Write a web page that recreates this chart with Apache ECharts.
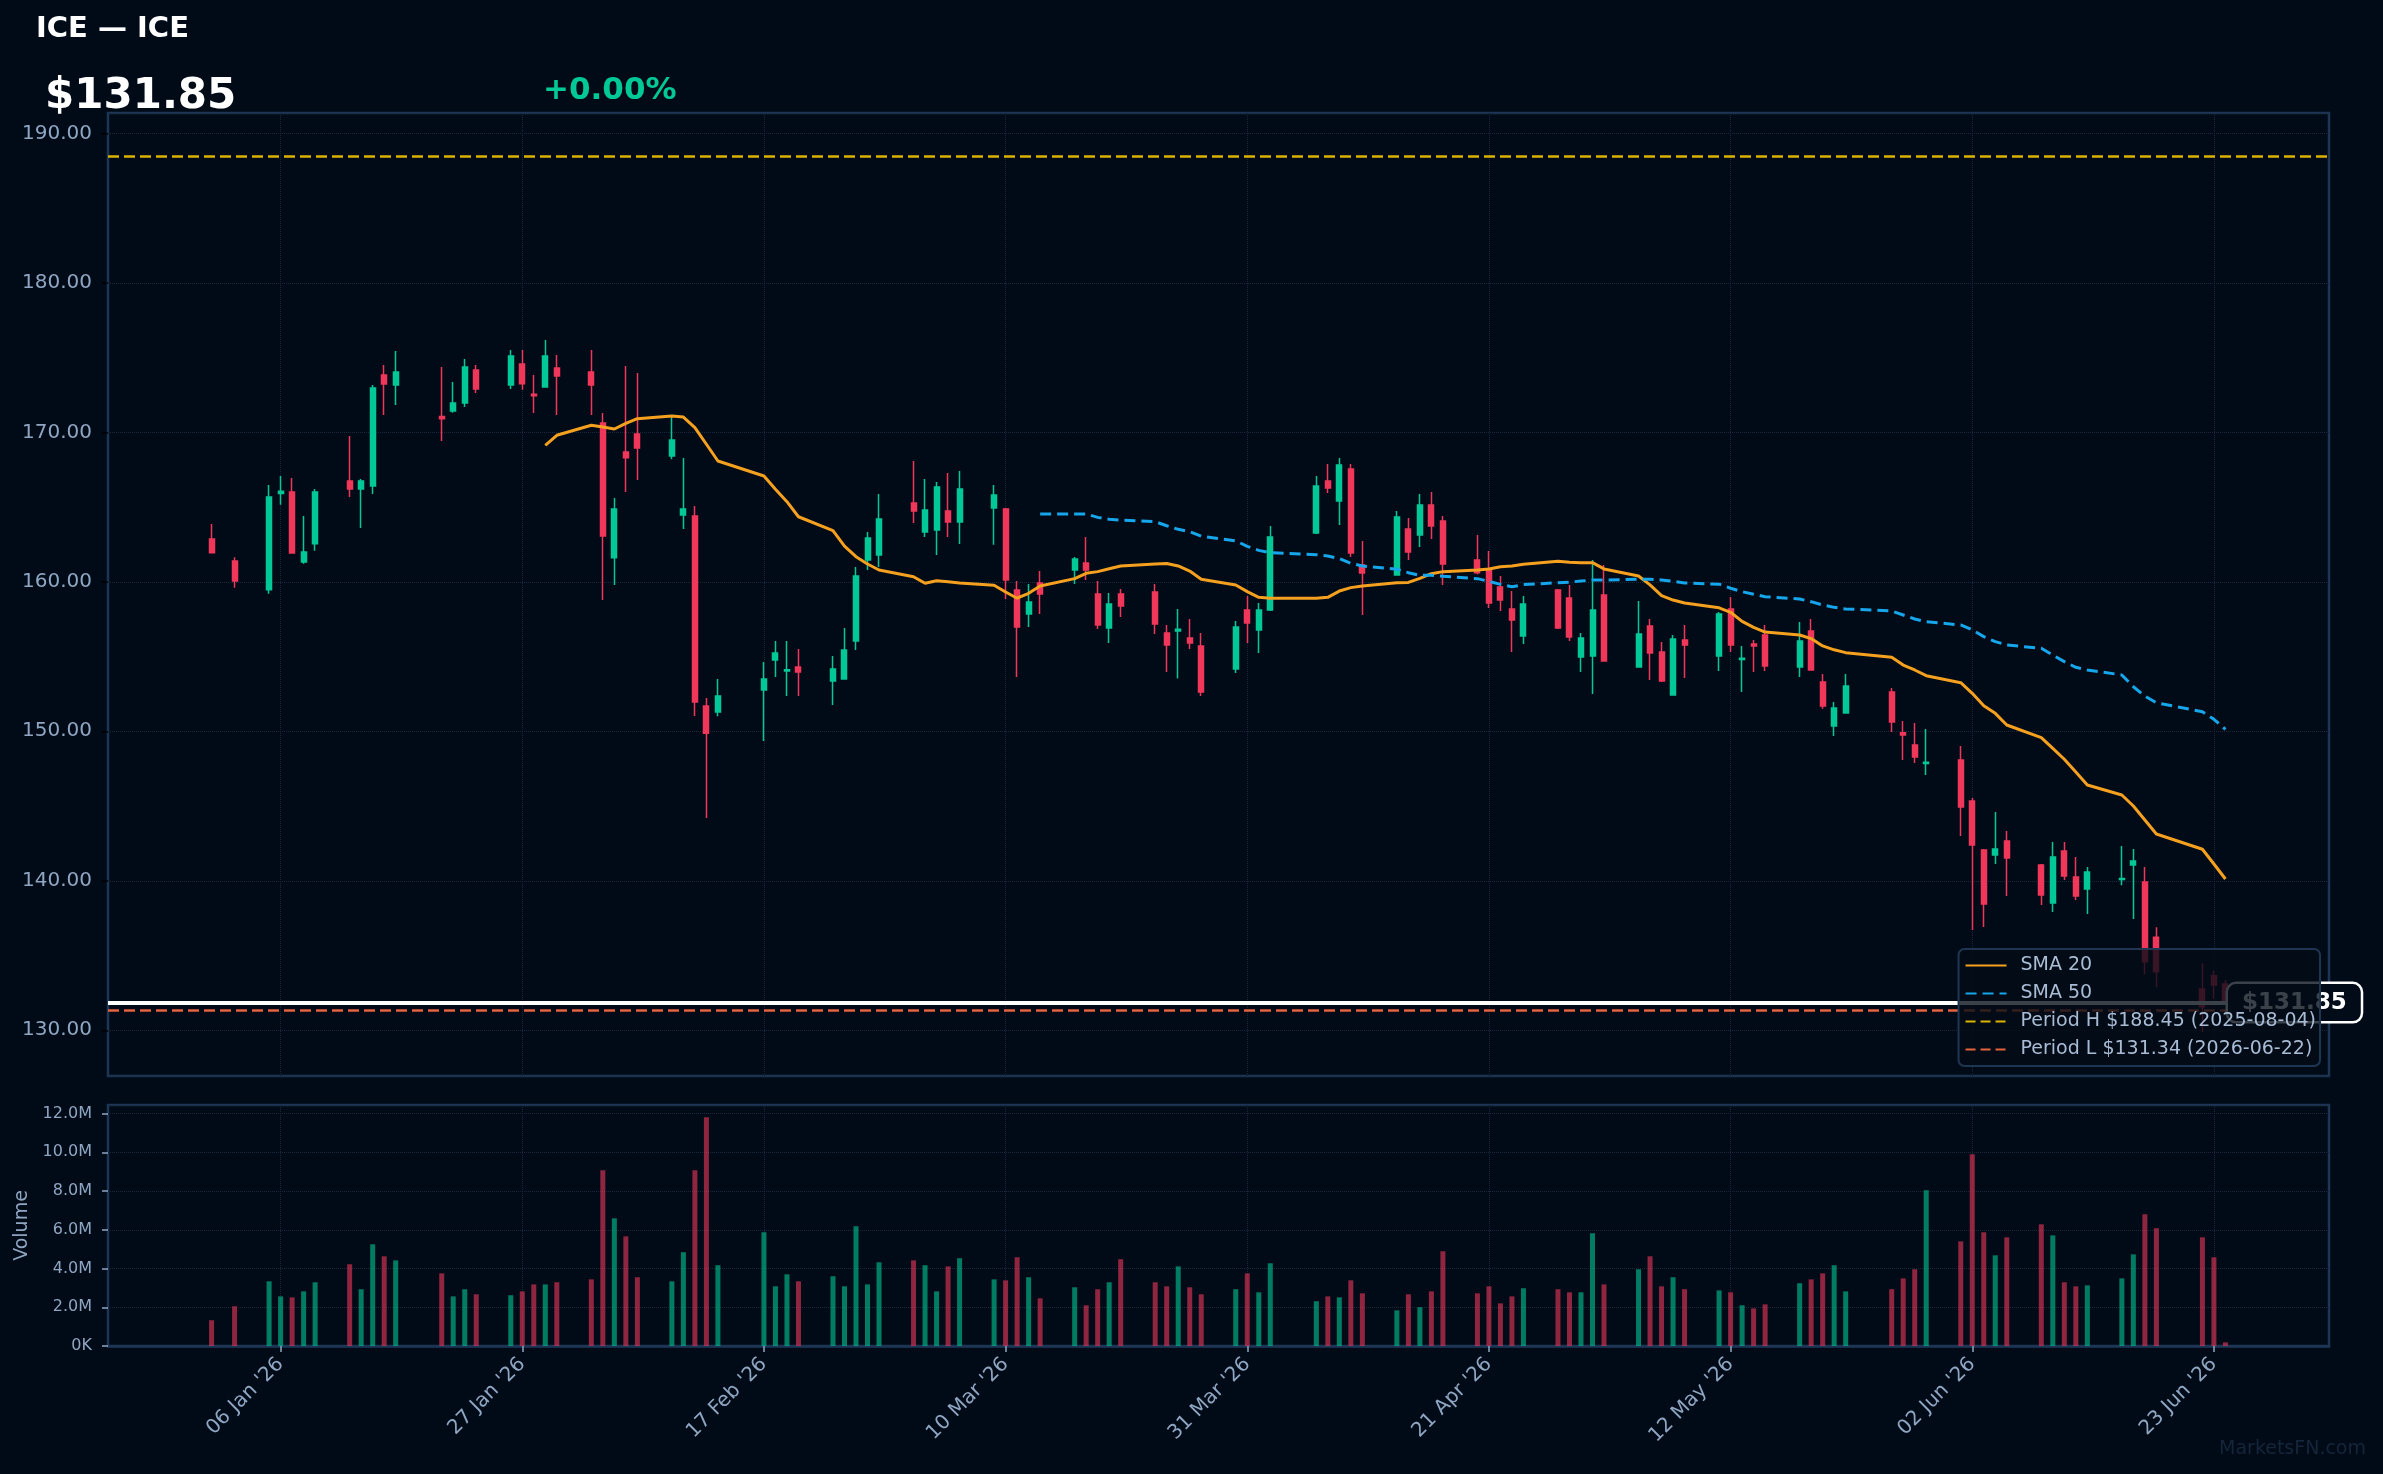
<!DOCTYPE html>
<html>
<head>
<meta charset="utf-8">
<title>ICE — ICE</title>
<script src="https://cdn.jsdelivr.net/npm/echarts@6/dist/echarts.min.js"></script>
<style>
  html, body { margin: 0; padding: 0; background: #010b18; }
  #chart { width: 2383px; height: 1474px; }
</style>
</head>
<body>
<div id="chart"></div>
<script>
// trading days shown (ISO dates)
var dates = [
  '2025-12-31','2026-01-02','2026-01-05','2026-01-06','2026-01-07','2026-01-08','2026-01-09',
  '2026-01-12','2026-01-13','2026-01-14','2026-01-15','2026-01-16','2026-01-20','2026-01-21',
  '2026-01-22','2026-01-23','2026-01-26','2026-01-27','2026-01-28','2026-01-29','2026-01-30',
  '2026-02-02','2026-02-03','2026-02-04','2026-02-05','2026-02-06','2026-02-09','2026-02-10',
  '2026-02-11','2026-02-12','2026-02-13','2026-02-17','2026-02-18','2026-02-19','2026-02-20',
  '2026-02-23','2026-02-24','2026-02-25','2026-02-26','2026-02-27','2026-03-02','2026-03-03',
  '2026-03-04','2026-03-05','2026-03-06','2026-03-09','2026-03-10','2026-03-11','2026-03-12',
  '2026-03-13','2026-03-16','2026-03-17','2026-03-18','2026-03-19','2026-03-20','2026-03-23',
  '2026-03-24','2026-03-25','2026-03-26','2026-03-27','2026-03-30','2026-03-31','2026-04-01',
  '2026-04-02','2026-04-06','2026-04-07','2026-04-08','2026-04-09','2026-04-10','2026-04-13',
  '2026-04-14','2026-04-15','2026-04-16','2026-04-17','2026-04-20','2026-04-21','2026-04-22',
  '2026-04-23','2026-04-24','2026-04-27','2026-04-28','2026-04-29','2026-04-30','2026-05-01',
  '2026-05-04','2026-05-05','2026-05-06','2026-05-07','2026-05-08','2026-05-11','2026-05-12',
  '2026-05-13','2026-05-14','2026-05-15','2026-05-18','2026-05-19','2026-05-20','2026-05-21',
  '2026-05-22','2026-05-26','2026-05-27','2026-05-28','2026-05-29','2026-06-01','2026-06-02',
  '2026-06-03','2026-06-04','2026-06-05','2026-06-08','2026-06-09','2026-06-10','2026-06-11',
  '2026-06-12','2026-06-15','2026-06-16','2026-06-17','2026-06-18','2026-06-22','2026-06-23',
  '2026-06-24'
];

var open = [
  162.86,161.39,159.47,165.90,166.00,161.32,162.55,166.74,166.21,166.41,173.83,173.16,171.05,171.42,
  171.96,174.17,173.16,174.57,172.55,173.03,174.30,174.03,170.62,161.61,168.68,169.89,168.41,164.47,
  164.40,151.69,151.29,152.76,154.77,154.03,154.30,153.36,153.50,156.04,161.46,161.79,165.27,163.33,
  163.46,164.74,164.00,164.94,164.87,159.45,157.85,159.92,160.79,161.26,159.18,156.91,159.18,159.32,
  156.58,156.70,156.24,155.71,154.17,158.11,156.78,158.11,163.26,166.74,165.40,167.55,161.12,160.45,
  163.53,163.13,165.14,164.07,161.46,160.79,159.65,158.18,156.37,159.45,158.92,154.97,155.04,159.12,
  154.30,157.04,155.30,152.43,156.11,155.04,158.18,154.80,155.84,156.44,154.30,156.71,153.30,150.35,
  151.22,152.63,149.90,149.08,147.84,148.08,145.34,142.06,141.73,142.66,141.06,138.52,141.99,140.25,
  139.45,140.08,141.06,139.92,136.22,132.76,133.65,133.10
];
var close = [
  161.95,160.05,165.67,166.05,161.93,162.00,166.00,166.21,166.74,172.96,173.23,174.03,170.90,171.96,
  174.37,172.90,175.10,173.25,172.45,175.10,173.77,173.16,163.06,164.87,168.30,168.95,169.48,164.87,
  151.96,149.87,152.36,153.50,155.24,154.12,153.97,154.17,155.44,160.39,162.93,164.20,164.74,164.80,
  166.34,164.00,166.21,165.81,160.12,156.98,158.65,159.18,161.53,160.79,157.11,158.51,158.38,157.18,
  155.77,156.82,155.91,152.63,156.98,157.24,158.11,163.00,166.41,166.27,167.81,161.93,160.59,164.33,
  161.99,165.14,163.73,161.19,160.60,158.58,158.78,157.44,158.51,156.91,156.31,156.24,158.11,154.70,
  156.51,155.24,153.36,156.17,155.77,157.85,155.77,154.88,155.71,154.37,156.04,154.10,151.69,151.56,
  153.03,150.62,149.75,148.28,147.92,144.94,142.40,138.45,142.13,141.53,139.05,141.59,140.32,138.98,
  140.59,140.16,141.32,134.59,133.92,131.58,133.03,131.85
];
var low = [
  161.90,159.60,159.20,165.16,161.90,161.20,162.08,165.67,163.60,165.87,171.16,171.83,169.42,171.30,
  171.69,172.63,172.90,172.85,171.29,173.00,171.16,171.16,158.78,159.79,166.01,166.81,168.20,163.53,
  151.02,144.20,151.00,149.35,153.63,152.36,152.36,151.76,153.45,155.44,160.79,160.99,163.93,163.00,
  161.79,163.00,162.53,162.47,158.85,153.63,156.98,157.85,159.85,160.12,156.84,155.91,157.65,156.51,
  153.97,153.53,155.50,152.36,153.90,155.91,155.24,158.04,163.20,165.94,163.80,161.66,157.78,160.40,
  161.46,162.33,162.86,159.79,160.50,158.25,158.05,155.30,155.84,156.85,156.04,153.97,152.50,154.65,
  154.25,153.43,153.30,152.40,153.57,154.03,155.30,152.63,153.97,154.03,153.63,154.05,151.50,149.69,
  151.20,149.95,148.08,147.88,147.08,143.00,136.71,136.91,141.12,138.98,138.38,137.91,140.05,138.72,
  137.78,139.70,137.45,133.75,132.88,129.87,132.10,131.70
];
var high = [
  163.87,161.64,166.48,167.08,166.94,164.40,166.21,169.75,166.88,173.16,174.50,175.44,174.37,173.36,
  174.90,174.50,175.50,175.50,173.83,176.17,175.17,175.50,171.29,165.61,174.43,173.97,171.02,168.28,
  165.07,152.23,153.50,154.64,156.04,156.04,155.50,155.04,156.91,160.99,163.33,165.87,168.08,166.88,
  166.68,167.28,167.41,166.48,164.94,160.05,159.85,160.72,161.66,163.00,160.05,159.25,159.52,159.85,
  157.11,158.18,157.51,156.58,157.38,159.05,158.58,163.73,167.08,167.88,168.28,167.88,162.73,164.74,
  164.27,165.87,166.01,164.40,163.13,162.06,160.39,159.38,159.05,159.52,159.79,156.58,161.46,161.12,
  158.72,157.51,155.97,156.44,157.11,157.98,158.98,155.71,156.11,157.11,157.31,157.51,153.83,151.96,
  153.83,152.90,150.69,150.56,150.15,149.02,145.54,142.13,144.60,143.33,141.12,142.60,142.60,141.59,
  140.92,142.33,142.13,140.92,136.89,134.48,133.99,133.36
];
// volume in millions
var volume = [
  1.33,2.05,3.34,2.56,2.51,2.82,3.29,4.22,2.93,5.25,4.63,4.42,3.75,2.56,
  2.93,2.67,2.62,2.82,3.18,3.18,3.29,3.44,9.07,6.59,5.66,3.55,3.34,4.84,
  9.07,11.81,4.17,5.87,3.08,3.70,3.34,3.60,3.08,6.18,3.18,4.32,4.42,4.17,
  2.82,4.11,4.53,3.44,3.39,4.58,3.55,2.46,3.03,2.10,2.93,3.29,4.48,3.29,
  3.08,4.11,3.03,2.67,2.93,3.75,2.77,4.27,2.31,2.56,2.51,3.39,2.72,1.84,
  2.67,2.00,2.82,4.89,2.72,3.08,2.20,2.56,2.98,2.93,2.77,2.77,5.82,3.18,
  3.96,4.63,3.08,3.55,2.93,2.87,2.77,2.10,1.94,2.15,3.24,3.44,3.75,4.17,
  2.82,2.93,3.49,3.96,8.04,5.40,9.90,5.87,4.68,5.61,6.28,5.71,3.29,3.08,
  3.13,3.49,4.73,6.80,6.08,5.61,4.58,0.19
];

// moving averages as drawn (first value on sma20Start / sma50Start)
var sma20Start = '2026-01-29';
var sma20 = [
  169.13,169.80,170.47,170.35,170.22,170.60,170.91,171.09,171.02,170.31,169.20,168.08,167.08,166.19,
  165.36,164.35,163.42,162.39,161.68,161.19,160.79,160.34,159.90,160.07,160.00,159.92,159.77,159.32,
  158.90,159.23,159.72,160.21,160.57,160.68,160.87,161.06,161.19,161.22,161.06,160.72,160.17,159.79,
  159.34,158.96,158.90,158.90,158.96,159.38,159.61,159.72,159.94,159.96,160.23,160.54,160.68,160.79,
  160.85,161.01,161.05,161.17,161.37,161.30,161.28,161.28,160.86,160.39,159.79,159.07,158.78,158.58,
  158.26,157.96,157.35,156.95,156.64,156.44,156.20,155.71,155.45,155.26,154.95,154.43,154.10,153.72,
  153.25,152.54,151.71,151.20,150.42,149.57,148.86,148.13,147.28,146.41,145.74,145.00,144.07,143.13,
  142.11,141.12,140.12
];
var sma50Start = '2026-03-13';
var sma50 = [
  164.54,164.54,164.54,164.31,164.18,164.12,164.02,163.75,163.51,163.35,163.05,162.74,162.37,162.10,
  161.95,161.81,161.73,161.55,161.24,161.06,160.84,160.61,160.43,160.43,160.37,160.21,160.03,159.83,
  159.67,159.81,159.94,159.98,160.05,160.12,160.12,160.17,160.17,160.12,160.03,159.92,159.84,159.57,
  159.34,159.17,159.00,158.85,158.67,158.45,158.29,158.18,158.05,157.78,157.51,157.33,157.11,156.78,
  156.33,156.00,155.77,155.55,155.10,154.66,154.28,154.10,153.77,152.98,152.36,151.91,151.31,150.80,
  150.13
];

var lastPrice = 131.85;
var periodHigh = 188.45, periodHighDate = '2025-08-04';
var periodLow = 131.34, periodLowDate = '2026-06-22';

// x range of the view (calendar days)
var viewStart = '2025-12-22', viewEnd = '2026-07-03';
var tickEvery = 21, tickOffset = 15; // 06 Jan '26 and every 3 weeks

var UP = '#00c896', DOWN = '#f0375a';
var FONT = 'DejaVu Sans';
var labelColor = '#8fa6c2';
var gridLine = { color: '#17283b', type: 'dotted', width: 1 };
var MONTHS = ['Jan','Feb','Mar','Apr','May','Jun','Jul','Aug','Sep','Oct','Nov','Dec'];

function iso(t) { return new Date(t).toISOString().slice(0, 10); }
var calendar = [];
for (var t = Date.parse(viewStart); t <= Date.parse(viewEnd); t += 86400000) {
  calendar.push(iso(t));
}
function isTick(i) { return i % tickEvery === tickOffset; }
function fmtDate(s) {
  return s.slice(8, 10) + ' ' + MONTHS[+s.slice(5, 7) - 1] + " '" + s.slice(2, 4);
}

var candles = dates.map(function (d, i) { return [d, open[i], close[i], low[i], high[i]]; });
var volBars = dates.map(function (d, i) {
  return {
    value: [d, volume[i]],
    itemStyle: { color: close[i] >= open[i] ? 'rgba(0,200,150,0.6)' : 'rgba(240,55,90,0.6)' }
  };
});
function pairs(start, vals) {
  var k = dates.indexOf(start);
  return vals.map(function (v, i) { return [dates[k + i], v]; });
}

var nameH = 'Period H $' + periodHigh.toFixed(2) + ' (' + periodHighDate + ')';
var nameL = 'Period L $' + periodLow.toFixed(2) + ' (' + periodLowDate + ')';

var chart = echarts.init(document.getElementById('chart'));
var option = {
  backgroundColor: '#010b18',
  animation: false,
  textStyle: { fontFamily: FONT },
  title: [
    { text: 'ICE — ICE', left: 36, top: 15, padding: 0,
      textStyle: { color: '#ffffff', fontSize: 29, fontWeight: 'bold', fontFamily: FONT } },
    { text: '$' + lastPrice.toFixed(2), left: 45, top: 76, padding: 0,
      textStyle: { color: '#ffffff', fontSize: 42, fontWeight: 'bold', fontFamily: FONT } },
    { text: '+0.00%', left: 543, top: 75, padding: 0,
      textStyle: { color: UP, fontSize: 31, fontWeight: 'bold', fontFamily: FONT } },
    { text: 'MarketsFN.com', right: 17, top: 1440, padding: 0,
      textStyle: { color: '#15253a', fontSize: 19, fontWeight: 'normal', fontFamily: FONT } }
  ],
  legend: {
    data: ['SMA 20', 'SMA 50', nameH, nameL],
    orient: 'vertical',
    right: 63, bottom: 408,
    z: 20,
    padding: [7, 4, 7, 6],
    backgroundColor: 'rgba(2,11,22,0.78)',
    borderColor: '#1f3653', borderWidth: 2, borderRadius: 6,
    itemWidth: 41, itemHeight: 18, itemGap: 9,
    itemStyle: { opacity: 0 },
    selectedMode: false,
    textStyle: { color: '#a9bcd5', fontSize: 19, fontFamily: FONT, padding: [0, 0, 0, 9] }
  },
  grid: [
    { left: 108, right: 54, top: 113, height: 963, show: true, borderColor: '#1d3656', borderWidth: 2.5,
      outerBoundsMode: 'none', containLabel: false },
    { left: 108, right: 54, top: 1105, height: 241, show: true, borderColor: '#1d3656', borderWidth: 2.5,
      outerBoundsMode: 'none', containLabel: false }
  ],
  xAxis: [
    { type: 'category', gridIndex: 0, data: calendar, boundaryGap: false,
      axisLine: { show: false }, axisTick: { show: false }, axisLabel: { show: false },
      splitLine: { show: true, interval: isTick, lineStyle: gridLine } },
    { type: 'category', gridIndex: 1, data: calendar, boundaryGap: false,
      axisLine: { show: true, lineStyle: { color: '#1d3656', width: 2.5 } },
      axisTick: { show: true, interval: isTick, length: 6, lineStyle: { color: '#8fa6c2', width: 1.5 } },
      axisLabel: { interval: isTick, rotate: 45, margin: 15, fontSize: 20, color: labelColor,
        fontFamily: FONT, formatter: fmtDate },
      splitLine: { show: true, interval: isTick, lineStyle: gridLine } }
  ],
  yAxis: [
    { type: 'value', gridIndex: 0, min: 126.94, max: 191.36, splitNumber: 6, scale: true,
      axisLine: { show: false },
      axisTick: { show: true, length: 6, lineStyle: { color: '#000000', width: 1.5 } },
      axisLabel: { margin: 16, fontSize: 20, color: labelColor, fontFamily: FONT,
        showMinLabel: false, showMaxLabel: false,
        formatter: function (v) { return v.toFixed(2); } },
      splitLine: { show: true, lineStyle: gridLine } },
    { type: 'value', gridIndex: 1, min: 0, max: 12.44, interval: 2,
      name: 'Volume', nameLocation: 'middle', nameGap: 72, nameRotate: 90,
      nameTextStyle: { color: labelColor, fontSize: 19, fontFamily: FONT },
      axisLine: { show: false },
      axisTick: { show: true, length: 6, lineStyle: { color: '#8fa6c2', width: 1.5 } },
      axisLabel: { margin: 16, fontSize: 16, color: labelColor, fontFamily: FONT, showMaxLabel: false,
        formatter: function (v) { return v === 0 ? '0K' : v.toFixed(1) + 'M'; } },
      splitLine: { show: true, lineStyle: gridLine } }
  ],
  series: [
    {
      name: 'ICE', type: 'candlestick', xAxisIndex: 0, yAxisIndex: 0,
      data: candles, encode: { x: 0, y: [1, 2, 3, 4] },
      barWidth: 5.5,
      itemStyle: { color: UP, color0: DOWN, borderColor: UP, borderColor0: DOWN, borderWidth: 1.5 },
      markLine: {
        silent: true, symbol: ['none', 'none'], animation: false,
        data: [{ yAxis: lastPrice }],
        lineStyle: { color: '#ffffff', width: 4, type: 'solid' },
        label: {
          show: true, position: 'end', distance: -101,
          formatter: '$' + lastPrice.toFixed(2),
          color: '#ffffff', fontSize: 23, fontWeight: 'bold', fontFamily: FONT,
          backgroundColor: '#020c18', borderColor: '#ffffff', borderWidth: 2.5, borderRadius: 8,
          padding: [7, 14]
        },
        emphasis: { disabled: true }
      }
    },
    {
      name: 'SMA 20', type: 'line', xAxisIndex: 0, yAxisIndex: 0, z: 3,
      data: pairs(sma20Start, sma20), symbol: 'none', silent: true,
      lineStyle: { color: '#f5a11f', width: 3 }
    },
    {
      name: 'SMA 50', type: 'line', xAxisIndex: 0, yAxisIndex: 0, z: 3,
      data: pairs(sma50Start, sma50), symbol: 'none', silent: true,
      lineStyle: { color: '#15a6ec', width: 3, type: [11, 6] }
    },
    {
      name: nameH, type: 'line', xAxisIndex: 0, yAxisIndex: 0, data: [], symbol: 'none',
      lineStyle: { color: '#dcb400', width: 2.5, type: [10, 5] },
      markLine: { silent: true, symbol: ['none', 'none'], animation: false,
        data: [{ yAxis: periodHigh }], label: { show: false },
        lineStyle: { color: '#dcb400', width: 2.5, type: [11, 5] } }
    },
    {
      name: nameL, type: 'line', xAxisIndex: 0, yAxisIndex: 0, data: [], symbol: 'none',
      lineStyle: { color: '#e4623c', width: 2.5, type: [10, 5] },
      markLine: { silent: true, symbol: ['none', 'none'], animation: false,
        data: [{ yAxis: periodLow }], label: { show: false },
        lineStyle: { color: '#e4623c', width: 2.5, type: [11, 5] } }
    },
    {
      name: 'Volume', type: 'bar', xAxisIndex: 1, yAxisIndex: 1,
      data: volBars, barWidth: 5, silent: true
    }
  ]
};
chart.setOption(option);
</script>
</body>
</html>
